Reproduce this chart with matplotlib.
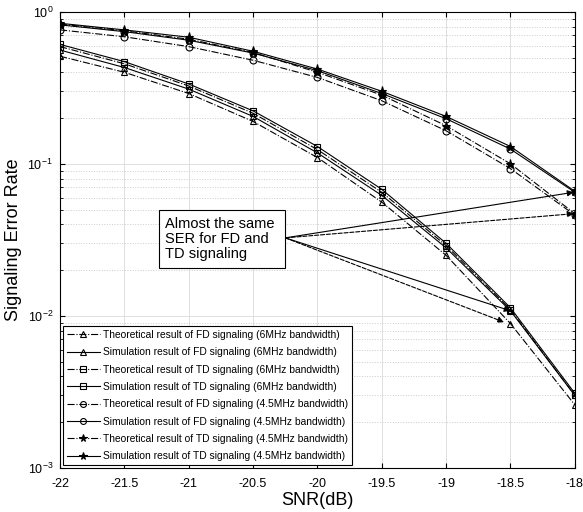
import numpy as np
import matplotlib.pyplot as plt
from matplotlib.patches import Rectangle

plt.rcParams['font.family'] = ['Liberation Sans', 'DejaVu Sans']
plt.rcParams['mathtext.fontset'] = 'custom'
plt.rcParams['mathtext.rm'] = 'Liberation Sans'

snr = [-22, -21.5, -21, -20.5, -20, -19.5, -19, -18.5, -18]

fd_theo_6 = [0.51, 0.40, 0.29, 0.19, 0.11, 0.056, 0.025, 0.0089, 0.0026]
fd_sim_6 = [0.56, 0.43, 0.31, 0.205, 0.118, 0.062, 0.028, 0.0108, 0.0030]
td_theo_6 = [0.59, 0.455, 0.325, 0.215, 0.124, 0.065, 0.029, 0.011, 0.0030]
td_sim_6 = [0.61, 0.47, 0.335, 0.223, 0.13, 0.068, 0.030, 0.0113, 0.0031]
fd_theo_45 = [0.76, 0.685, 0.59, 0.48, 0.37, 0.26, 0.165, 0.093, 0.046]
fd_sim_45 = [0.82, 0.74, 0.65, 0.535, 0.41, 0.29, 0.198, 0.125, 0.065]
td_theo_45 = [0.83, 0.75, 0.66, 0.54, 0.40, 0.283, 0.178, 0.10, 0.047]
td_sim_45 = [0.84, 0.76, 0.68, 0.55, 0.42, 0.30, 0.205, 0.13, 0.066]

labels = [
    'Theoretical result of FD signaling (6MHz bandwidth)',
    'Simulation result of FD signaling (6MHz bandwidth)',
    'Theoretical result of TD signaling (6MHz bandwidth)',
    'Simulation result of TD signaling (6MHz bandwidth)',
    'Theoretical result of FD signaling (4.5MHz bandwidth)',
    'Simulation result of FD signaling (4.5MHz bandwidth)',
    'Theoretical result of TD signaling (4.5MHz bandwidth)',
    'Simulation result of TD signaling (4.5MHz bandwidth)',
]
series = [fd_theo_6, fd_sim_6, td_theo_6, td_sim_6,
          fd_theo_45, fd_sim_45, td_theo_45, td_sim_45]
markers = ['^', '^', 's', 's', 'o', 'o', '*', '*']
styles = ['-.', '-', '-.', '-', '-.', '-', '-.', '-']
msizes = [5, 5, 4.5, 4.5, 5, 5, 6.5, 6.5]
faces = ['none', 'none', 'none', 'none', 'none', 'none', 'black', 'black']

fig = plt.figure(figsize=(5.83, 5.12), dpi=100)
ax = fig.add_axes([0.103, 0.086, 0.883, 0.891])

for y, m, ls, ms, fc, lab in zip(series, markers, styles, msizes, faces, labels):
    ax.semilogy(snr, y, color='black', linestyle=ls, marker=m, markersize=ms,
                markerfacecolor=fc, markeredgecolor='black', linewidth=0.8,
                markeredgewidth=0.8, label=lab)

ax.set_xlim(-22, -18)
ax.set_ylim(1e-3, 1)
ax.set_xticks(snr)
ax.set_xticklabels(['-22', '-21.5', '-21', '-20.5', '-20', '-19.5', '-19', '-18.5', '-18'])
ax.tick_params(which='both', direction='in', top=True, right=True, labelsize=9)
ax.tick_params(axis='x', pad=7)
ax.tick_params(axis='y', pad=5)
ax.grid(True, which='major', color='#e0e0e0', linewidth=0.7)
ax.grid(True, which='minor', axis='y', color='#cccccc', linestyle=':', linewidth=0.7)
ax.set_xlabel('SNR(dB)', fontsize=13, labelpad=2)
ax.set_ylabel('Signaling Error Rate', fontsize=13, labelpad=4)

# annotation box and arrows
start = (-20.25, 0.0326)
ax.add_patch(Rectangle((0.192, 0.438), 0.245, 0.128, transform=ax.transAxes,
                       facecolor='white', edgecolor='black', linewidth=0.8, zorder=4))
ax.text(0.203, 0.502, 'Almost the same\nSER for FD and\nTD signaling', transform=ax.transAxes,
        fontsize=10.5, va='center', ha='left', linespacing=1.1, zorder=5)
targets = [((-18.01, 0.065), '-'), ((-18.01, 0.047), '--'),
           ((-18.5, 0.0108), '-'), ((-18.55, 0.0091), '--')]
for (tx, ty), ls in targets:
    ax.annotate('', xy=(tx, ty), xytext=start,
                arrowprops=dict(arrowstyle='-|>', color='black', linestyle=ls, linewidth=0.8,
                                mutation_scale=9, shrinkA=0, shrinkB=0))

# size legend text so the longest label is about 245 px wide
renderer = fig.canvas.get_renderer()
probe = fig.text(0, 0, max(labels, key=len), size=10)
w10 = probe.get_window_extent(renderer).width
probe.remove()
leg_size = min(10.0, 10.0 * 245.0 / w10)
f_px = leg_size * 100 / 72
spacing = max(0.2, 17.6 / f_px - 1.0)

leg = ax.legend(loc='lower left', frameon=True, fancybox=False,
                prop={'size': leg_size}, markerscale=0.85,
                edgecolor='black', framealpha=1, borderaxespad=0.25,
                handlelength=33.0 / f_px, labelspacing=spacing, borderpad=0.4,
                handletextpad=0.3)
leg.get_frame().set_linewidth(0.8)

fig.savefig('out.png', dpi=100)
